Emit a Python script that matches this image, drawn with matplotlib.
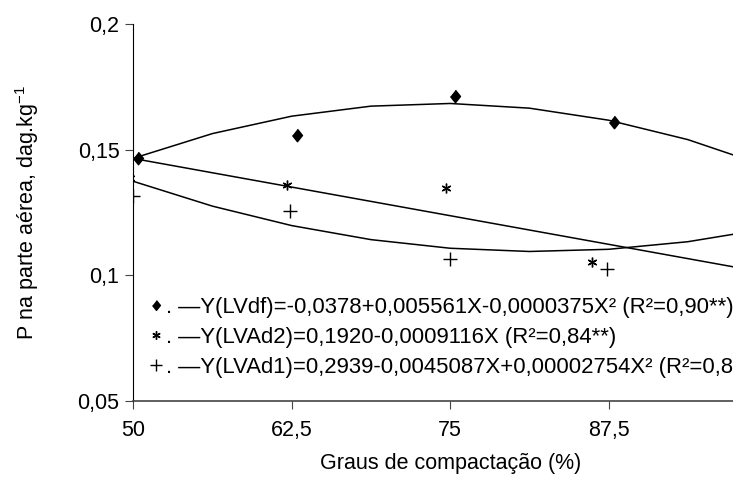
import numpy as np
import matplotlib
matplotlib.use("Agg")
import matplotlib.pyplot as plt
from matplotlib.lines import Line2D

plt.rcParams['font.family'] = ['Liberation Sans', 'DejaVu Sans']
plt.rcParams['mathtext.fontset'] = 'custom'
plt.rcParams['mathtext.rm'] = 'Liberation Sans'
plt.rcParams['mathtext.it'] = 'Liberation Sans:italic'

# pontos observados (graus de compactacao x P na parte aerea)
x_lvdf = [50.4, 62.9, 75.4, 87.9]
y_lvdf = [0.1468, 0.1558, 0.1712, 0.1610]
x_lvad2 = [49.7, 62.15, 74.65, 86.2]
y_lvad2 = [0.1386, 0.1360, 0.1347, 0.1053]
x_lvad1 = [49.95, 62.4, 74.95, 87.4]
y_lvad1 = [0.1313, 0.1256, 0.1062, 0.1022]

# coeficientes das regressoes (a, b, c) -> Y = a + bX + cX^2
coef_lvdf = [-0.0378, 0.005561, -0.0000375]
coef_lvad2 = [0.1920, -0.0009116, 0.0]
coef_lvad1 = [0.2939, -0.0045087, 0.00002754]

rotulos = [
    '. \u2014Y(LVdf)=-0,0378+0,005561X-0,0000375X\u00b2 (R\u00b2=0,90**)',
    '. \u2014Y(LVAd2)=0,1920-0,0009116X (R\u00b2=0,84**)',
    '. \u2014Y(LVAd1)=0,2939-0,0045087X+0,00002754X\u00b2 (R\u00b2=0,81**)',
]

xticks = [50, 62.5, 75, 87.5]
xticklabels = ['50', '62,5', '75', '87,5']
yticks = [0.05, 0.1, 0.15, 0.2]
yticklabels = ['0,05', '0,1', '0,15', '0,2']

fs = 15.5

fig = plt.figure(figsize=(7.33, 4.78), dpi=100)
ax = fig.add_axes([0.1819, 0.1621, 0.8644, 0.7877])

# curvas ajustadas, avaliadas de 6,25 em 6,25
xs = np.arange(50, 100.01, 6.25)
for a, b, c in (coef_lvdf, coef_lvad2, coef_lvad1):
    ax.plot(xs, a + b * xs + c * xs ** 2, color='black', lw=1.1, zorder=2)

diamante = [(0, 1), (0.8, 0), (0, -1), (-0.8, 0)]
ax.plot(x_lvdf, y_lvdf, linestyle='None', marker=diamante, ms=9, color='black', zorder=3)
ax.plot(x_lvad2, y_lvad2, linestyle='None', marker=(6, 2, 0), ms=7, mew=1, color='black', zorder=3)
ax.plot(x_lvad1, y_lvad1, linestyle='None', marker='+', ms=10, mew=1, color='black', zorder=3)

ax.set_xlim(50, 100)
ax.set_ylim(0.05, 0.2)
ax.set_xticks(xticks)
ax.set_xticklabels(xticklabels)
ax.set_yticks(yticks)
ax.set_yticklabels(yticklabels)
ax.tick_params(axis='both', labelsize=fs, length=6, direction='out')
ax.tick_params(axis='x', pad=8, colors='#444444', labelcolor='black')
ax.tick_params(axis='y', pad=4, colors='#444444', labelcolor='black')

for lado in ('top', 'right'):
    ax.spines[lado].set_visible(False)
ax.spines['left'].set_color('black')
ax.spines['bottom'].set_color('#444444')
ax.spines['bottom'].set_linewidth(1.2)

ax.set_xlabel('Graus de compactação (%)', fontsize=fs, labelpad=9)
ax.set_ylabel(r'P na parte aérea, dag.kg$^{-1}$', fontsize=fs, labelpad=26)

handles = [
    Line2D([], [], linestyle='None', marker=diamante, ms=7, color='black'),
    Line2D([], [], linestyle='None', marker=(6, 2, 0), ms=6, mew=1, color='black'),
    Line2D([], [], linestyle='None', marker='+', ms=8, mew=1, color='black'),
]
fig.legend(handles, rotulos, loc='upper left', bbox_to_anchor=(0.2033, 0.379),
           frameon=False, fontsize=15.9, borderpad=0, borderaxespad=0,
           handlelength=0.6, handletextpad=0.15, labelspacing=0.40)

fig.savefig('out.png', dpi=100)
